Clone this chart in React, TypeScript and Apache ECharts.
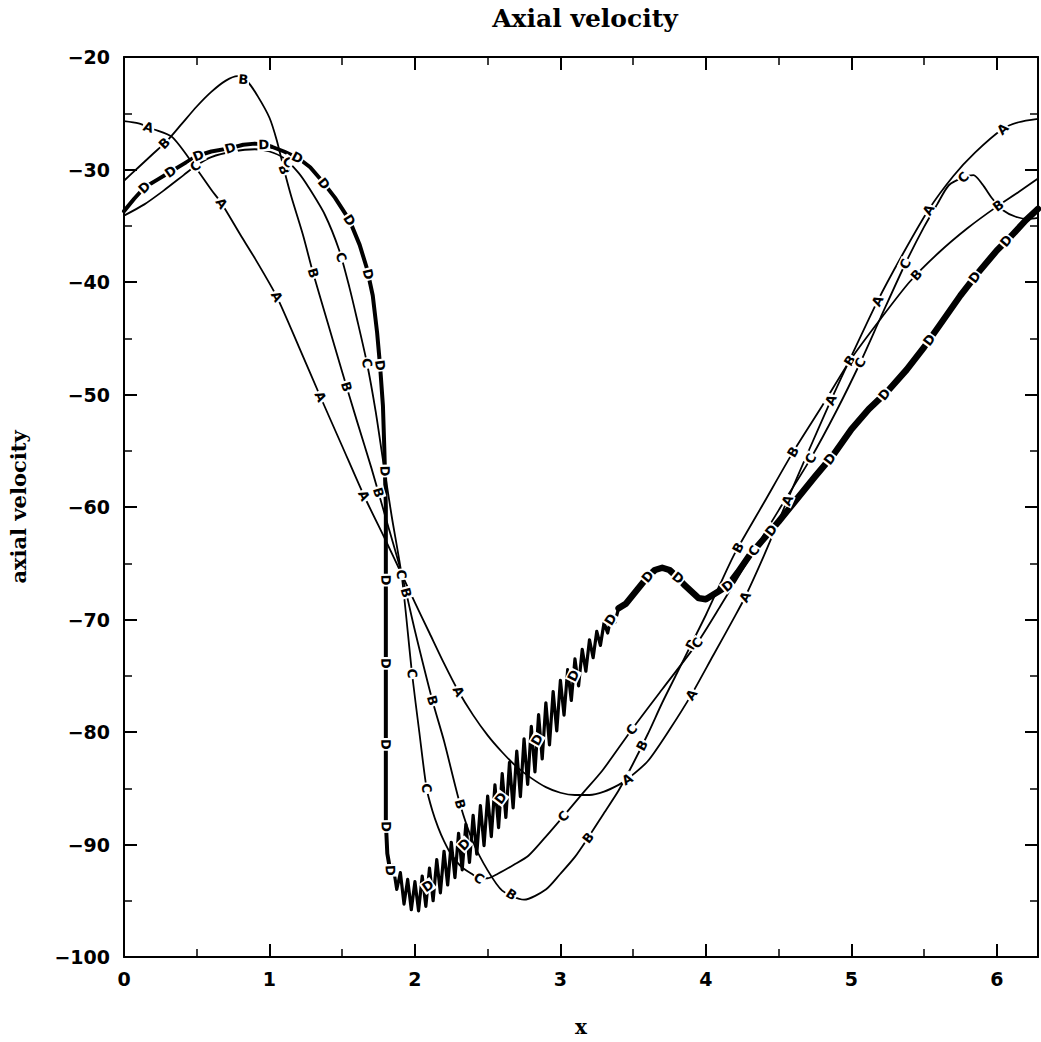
import { useEffect, useRef } from 'react';
import * as echarts from 'echarts';

const TWO_PI = Math.PI * 2;

// Curve A
const aX = [0, 0.1, 0.2, 0.33, 0.48, 0.6, 0.67, 0.8, 0.9, 1.05, 1.2, 1.35, 1.5, 1.65, 1.8, 1.91, 2.0, 2.1, 2.2, 2.3, 2.4, 2.5, 2.6, 2.7, 2.8, 2.9, 3.0, 3.1, 3.2, 3.3, 3.4, 3.46, 3.6, 3.75, 3.9, 4.05, 4.2, 4.27, 4.4, 4.56, 4.7, 4.86, 5.0, 5.18, 5.35, 5.53, 5.7, 5.85, 6.04, 6.15, 6.2832];
const aY = [-25.7, -25.9, -26.4, -27.1, -29.6, -31.8, -33.0, -35.8, -37.9, -41.3, -45.7, -50.2, -54.6, -59.0, -63.0, -66.0, -68.5, -71.2, -73.9, -76.4, -78.5, -80.3, -81.8, -83.1, -84.1, -84.9, -85.4, -85.6, -85.6, -85.3, -84.7, -84.2, -82.6, -79.8, -76.7, -73.2, -69.7, -68.0, -64.3, -59.4, -55.2, -50.5, -46.6, -41.7, -37.6, -33.6, -30.6, -28.5, -26.4, -25.8, -25.5];

// Curve B
const bX = [0, 0.1, 0.2, 0.3, 0.4, 0.5, 0.6, 0.7, 0.78, 0.85, 0.92, 1.0, 1.05, 1.1, 1.15, 1.23, 1.3, 1.4, 1.5, 1.6, 1.7, 1.8, 1.91, 2.0, 2.12, 2.2, 2.31, 2.4, 2.5, 2.6, 2.75, 2.9, 3.0, 3.1, 3.19, 3.3, 3.4, 3.5, 3.6, 3.7, 3.8, 3.9, 4.0, 4.1, 4.2, 4.4, 4.6, 4.8, 5.0, 5.2, 5.4, 5.6, 5.8, 6.0, 6.15, 6.2832];
const bY = [-31.0, -29.8, -28.6, -27.4, -25.9, -24.4, -23.1, -22.1, -21.7, -22.2, -23.5, -25.4, -27.4, -30.0, -32.4, -35.8, -39.2, -43.6, -48.0, -52.3, -56.5, -61.0, -66.0, -71.0, -77.2, -80.8, -86.4, -89.8, -92.3, -94.1, -94.9, -94.0, -92.6, -91.1, -89.4, -87.2, -85.2, -82.8, -80.2, -77.4, -74.8, -72.2, -69.6, -66.8, -64.1, -59.6, -55.1, -51.0, -46.8, -43.3, -40.0, -37.4, -35.2, -33.3, -32.0, -30.8];

// Curve C
const cX = [0, 0.14, 0.27, 0.41, 0.49, 0.6, 0.75, 0.9, 1.0, 1.1, 1.2, 1.27, 1.38, 1.48, 1.55, 1.6, 1.67, 1.73, 1.78, 1.84, 1.91, 1.98, 2.03, 2.08, 2.12, 2.16, 2.2, 2.25, 2.32, 2.39, 2.44, 2.5, 2.57, 2.68, 2.78, 2.9, 3.02, 3.15, 3.29, 3.49, 3.7, 3.94, 4.1, 4.33, 4.5, 4.72, 4.9, 5.06, 5.2, 5.37, 5.5, 5.59, 5.67, 5.77, 5.84, 5.9, 5.97, 6.04, 6.13, 6.22, 6.2832];
const cY = [-34.1, -33.1, -31.9, -30.5, -29.7, -28.9, -28.4, -28.2, -28.4, -29.0, -30.3, -31.6, -34.0, -37.2, -40.5, -43.2, -47.2, -51.5, -55.8, -60.8, -66.2, -74.8, -80.0, -85.0, -87.0, -88.5, -89.7, -90.9, -92.0, -92.6, -93.0, -93.0, -92.6, -91.8, -91.0, -89.3, -87.5, -85.5, -83.4, -79.8, -76.2, -72.1, -68.8, -63.9, -60.3, -55.7, -51.4, -47.2, -43.2, -38.4, -35.1, -33.1, -31.4, -30.7, -30.5, -31.3, -32.6, -33.6, -34.2, -34.4, -34.3];

// Curve D, smooth left part (top arc and the vertical drop)
const dLeftX = [0, 0.07, 0.14, 0.23, 0.32, 0.41, 0.5, 0.6, 0.73, 0.82, 0.9, 0.97, 1.02, 1.1, 1.2, 1.28, 1.36, 1.45, 1.55, 1.62, 1.67, 1.71, 1.74, 1.76, 1.78, 1.79, 1.8, 1.8, 1.8, 1.8, 1.81, 1.83, 1.85];
const dLeftY = [-33.7, -32.6, -31.6, -30.9, -30.2, -29.5, -28.8, -28.4, -28.1, -27.8, -27.7, -27.8, -28.0, -28.4, -29.0, -29.8, -31.0, -32.5, -34.5, -36.7, -38.8, -41.2, -44.5, -47.4, -51.0, -55.0, -60.0, -70.0, -80.0, -88.0, -90.8, -92.3, -91.9];

// Curve D, oscillating band
const dBandX = [1.85, 1.875, 1.9, 1.925, 1.95, 1.975, 2.0, 2.025, 2.05, 2.075, 2.1, 2.125, 2.15, 2.175, 2.2, 2.225, 2.25, 2.275, 2.3, 2.325, 2.35, 2.375, 2.4, 2.425, 2.45, 2.475, 2.5, 2.525, 2.55, 2.575, 2.6, 2.625, 2.65, 2.675, 2.7, 2.725, 2.75, 2.775, 2.8, 2.825, 2.85, 2.875, 2.9, 2.925, 2.95, 2.975, 3.0, 3.025, 3.05, 3.075, 3.1, 3.125, 3.15, 3.175, 3.2, 3.225, 3.25, 3.275, 3.3, 3.325, 3.35, 3.375, 3.4];
const dBandY = [-91.9, -94.0, -92.5, -95.3, -93.1, -95.8, -93.3, -95.9, -92.8, -95.5, -92.1, -95.0, -91.35, -94.3, -90.6, -93.6, -89.8, -92.95, -89.0, -92.25, -88.2, -91.6, -87.4, -90.85, -86.55, -90.1, -85.7, -89.3, -84.7, -88.5, -83.7, -87.6, -82.7, -86.75, -81.7, -85.75, -80.6, -84.65, -79.5, -83.55, -78.45, -82.4, -77.4, -81.15, -76.4, -79.9, -75.4, -78.5, -74.45, -77.2, -73.5, -75.9, -72.65, -74.6, -71.8, -73.4, -71.05, -72.3, -70.3, -71.2, -69.7, -70.25, -69.0];

// Curve D, right part (bump and rise)
const dRightX = [3.4, 3.45, 3.5, 3.55, 3.6, 3.65, 3.7, 3.75, 3.8, 3.85, 3.9, 3.95, 4.0, 4.05, 4.1, 4.15, 4.22, 4.3, 4.4, 4.5, 4.6, 4.75, 4.88, 5.0, 5.12, 5.25, 5.38, 5.5, 5.62, 5.75, 5.87, 6.0, 6.1, 6.2, 6.2832];
const dRightY = [-69.0, -68.6, -67.8, -67.0, -66.2, -65.6, -65.4, -65.6, -66.2, -66.9, -67.5, -68.1, -68.2, -67.8, -67.4, -67.0, -65.8, -64.3, -62.8, -61.3, -59.7, -57.3, -55.3, -53.1, -51.3, -49.7, -47.8, -45.8, -43.6, -41.2, -39.2, -37.2, -35.9, -34.5, -33.5];

// Positions of the curve letters
const aLabels = [[0.17, -26.2], [0.67, -33.0], [1.05, -41.3], [1.35, -50.2], [1.65, -59.0], [2.3, -76.4], [3.46, -84.2], [3.9, -76.7], [4.27, -68.0], [4.56, -59.4], [4.86, -50.5], [5.18, -41.7], [5.53, -33.6], [6.04, -26.4]];
const bLabels = [[0.28, -27.7], [0.82, -22.0], [1.1, -30.0], [1.3, -39.2], [1.53, -49.3], [1.75, -58.7], [1.94, -67.6], [2.12, -77.2], [2.31, -86.4], [2.66, -94.5], [3.19, -89.4], [3.56, -81.2], [3.9, -72.2], [4.22, -63.6], [4.6, -55.1], [4.99, -47.0], [5.45, -39.4], [6.01, -33.2]];
const cLabels = [[0.49, -29.7], [1.13, -29.3], [1.49, -37.8], [1.67, -47.2], [1.9, -66.0], [1.98, -74.8], [2.08, -85.0], [2.44, -93.0], [3.02, -87.5], [3.49, -79.8], [3.94, -72.1], [4.33, -63.9], [4.72, -55.7], [5.06, -47.2], [5.37, -38.4], [5.77, -30.7]];
const dLabels = [[0.14, -31.6], [0.32, -30.2], [0.51, -28.7], [0.73, -28.1], [0.96, -27.8], [1.19, -29.0], [1.38, -31.2], [1.55, -34.5], [1.68, -39.3], [1.76, -47.4], [1.8, -56.8], [1.8, -66.5], [1.8, -73.9], [1.8, -81.1], [1.8, -88.4], [1.83, -92.3], [2.1, -93.7], [2.35, -90.0], [2.6, -85.9], [2.85, -80.7], [3.1, -75.0], [3.34, -70.0], [3.6, -66.2], [3.8, -66.4], [4.15, -67.0], [4.45, -62.1], [4.84, -55.6], [5.22, -49.9], [5.54, -45.2], [5.85, -39.6], [6.06, -36.3]];

const xTicksMajor = 1;
const xTicksMinor = 0.5;
const yTickInterval = 10;

function zip(xs: number[], ys: number[]) {
  return xs.map((x, i) => [x, ys[i]]);
}

const BLACK = '#000';

function placeLabels(toPx: (p: number[]) => number[], pts: number[][], specs: number[][], letter: string) {
  const px = pts.map((p) => toPx(p));
  const out: any[] = [];
  for (let k = 0; k < specs.length; k++) {
    const q = toPx(specs[k]);
    let best = Infinity;
    let bx = q[0];
    let by = q[1];
    let bi = 0;
    for (let i = 0; i < px.length - 1; i++) {
      const x1 = px[i][0];
      const y1 = px[i][1];
      const dx = px[i + 1][0] - x1;
      const dy = px[i + 1][1] - y1;
      const L = dx * dx + dy * dy;
      let t = L > 0 ? ((q[0] - x1) * dx + (q[1] - y1) * dy) / L : 0;
      t = Math.max(0, Math.min(1, t));
      const cx = x1 + t * dx;
      const cy = y1 + t * dy;
      const d = (cx - q[0]) * (cx - q[0]) + (cy - q[1]) * (cy - q[1]);
      if (d < best) {
        best = d;
        bx = cx;
        by = cy;
        bi = i;
      }
    }
    const i0 = Math.max(0, bi - 2);
    const i1 = Math.min(px.length - 1, bi + 2);
    let ang = Math.atan2(px[i0][1] - px[i1][1], px[i1][0] - px[i0][0]);
    if (ang > Math.PI / 2) ang -= Math.PI;
    if (ang < -Math.PI / 2) ang += Math.PI;
    if (!isFinite(ang)) ang = 0;
    out.push({
      type: 'text',
      x: bx,
      y: by,
      rotation: ang,
      z: 100,
      silent: true,
      style: {
        text: letter,
        fill: BLACK,
        fontFamily: 'DejaVu Sans',
        fontWeight: 'bold',
        fontSize: 13,
        backgroundColor: '#fff',
        padding: [0, 1, 0, 1],
        align: 'center',
        verticalAlign: 'middle',
      },
    });
  }
  return out;
}

export default function App() {
  const ref = useRef<HTMLDivElement>(null);

  useEffect(() => {
    const chart = echarts.init(ref.current as HTMLDivElement, null, { renderer: 'svg' });

    const tickFont = { fontFamily: 'DejaVu Sans', fontWeight: 'bold', fontSize: 19, color: BLACK };
    const axisLine = { show: true, onZero: false, lineStyle: { color: BLACK, width: 2 } };
    const majorTick = { show: true, inside: true, length: 13, lineStyle: { color: BLACK, width: 2 } };
    const minorTickX = { show: true, inside: true, length: 8, lineStyle: { color: BLACK, width: 1.5 } };

    const xBase = { type: 'value', min: 0, max: TWO_PI, splitLine: { show: false }, minorSplitLine: { show: false } };

    const lineSeries: any[] = [
      { name: 'A', data: zip(aX, aY), width: 1.8, smooth: 0.25 },
      { name: 'B', data: zip(bX, bY), width: 1.8, smooth: 0.25 },
      { name: 'C', data: zip(cX, cY), width: 1.8, smooth: 0.25 },
      { name: 'D', data: zip(dLeftX, dLeftY), width: 4, smooth: false },
      { name: 'D', data: zip(dBandX, dBandY), width: 3.2, smooth: false },
      { name: 'D', data: zip(dRightX, dRightY), width: 6.5, smooth: false },
    ].map((s) => ({
      type: 'line',
      name: s.name,
      data: s.data,
      xAxisIndex: 0,
      yAxisIndex: 0,
      showSymbol: false,
      symbol: 'none',
      smooth: s.smooth,
      lineStyle: { color: BLACK, width: s.width, cap: 'round', join: 'round' },
      silent: true,
      z: 2,
    }));

    const option: any = {
      animation: false,
      backgroundColor: '#fff',
      title: {
        text: 'Axial velocity',
        left: 580,
        top: 1,
        textAlign: 'center',
        textStyle: { fontFamily: 'DejaVu Serif', fontWeight: 'bold', fontSize: 25, color: BLACK },
      },
      grid: { left: 120, right: 1, top: 57, bottom: 72, containLabel: false },
      xAxis: [
        {
          ...xBase,
          position: 'bottom',
          interval: xTicksMajor,
          axisLine,
          axisTick: majorTick,
          axisLabel: {
            ...tickFont,
            margin: 12,
            formatter: (v: number) => (Math.abs(v - Math.round(v)) < 1e-9 ? String(Math.round(v)) : ''),
          },
          name: 'x',
          nameLocation: 'middle',
          nameGap: 60,
          nameTextStyle: { fontFamily: 'DejaVu Serif', fontWeight: 'bold', fontSize: 20, color: BLACK },
        },
        { ...xBase, position: 'bottom', interval: xTicksMinor, axisLine: { show: false }, axisTick: minorTickX, axisLabel: { show: false } },
        { ...xBase, position: 'top', interval: xTicksMajor, axisLine, axisTick: majorTick, axisLabel: { show: false } },
        { ...xBase, position: 'top', interval: xTicksMinor, axisLine: { show: false }, axisTick: minorTickX, axisLabel: { show: false } },
      ],
      yAxis: [
        {
          type: 'value',
          min: -100,
          max: -20,
          interval: yTickInterval,
          position: 'left',
          axisLine,
          axisTick: majorTick,
          minorTick: { show: true, splitNumber: 2, length: 8, lineStyle: { color: BLACK, width: 1.5 } },
          splitLine: { show: false },
          minorSplitLine: { show: false },
          axisLabel: {
            ...tickFont,
            margin: 14,
            formatter: (v: number) => (v < 0 ? '\u2212' + Math.abs(v) : String(v)),
          },
          name: 'axial velocity',
          nameLocation: 'middle',
          nameRotate: 90,
          nameGap: 95,
          nameTextStyle: { fontFamily: 'DejaVu Serif', fontWeight: 'bold', fontSize: 21, color: BLACK },
        },
        {
          type: 'value',
          min: -100,
          max: -20,
          interval: yTickInterval,
          position: 'right',
          axisLine,
          axisTick: majorTick,
          minorTick: { show: true, splitNumber: 2, length: 8, lineStyle: { color: BLACK, width: 1.5 } },
          splitLine: { show: false },
          minorSplitLine: { show: false },
          axisLabel: { show: false },
        },
      ],
      series: lineSeries,
    };

    chart.setOption(option);

    // Pixel mapping taken from the chart's own axes
    const p00 = chart.convertToPixel({ xAxisIndex: 0, yAxisIndex: 0 }, [0, -100]) as number[];
    const p11 = chart.convertToPixel({ xAxisIndex: 0, yAxisIndex: 0 }, [1, -90]) as number[];
    const sx = p11[0] - p00[0];
    const sy = p11[1] - p00[1];
    const toPx = (p: number[]) => [p00[0] + p[0] * sx, p00[1] + ((p[1] + 100) / 10) * sy];

    const dAll = [...zip(dLeftX, dLeftY), ...zip(dBandX, dBandY), ...zip(dRightX, dRightY)];
    const sets = [
      { letter: 'A', pts: zip(aX, aY), labels: aLabels },
      { letter: 'B', pts: zip(bX, bY), labels: bLabels },
      { letter: 'C', pts: zip(cX, cY), labels: cLabels },
      { letter: 'D', pts: dAll, labels: dLabels },
    ];
    let graphics: any[] = [];
    for (const s of sets) {
      graphics = graphics.concat(placeLabels(toPx, s.pts, s.labels, s.letter));
    }

    chart.setOption({ graphic: { elements: graphics } });

    return () => {
      chart.dispose();
    };
  }, []);

  return (
    <div
      ref={ref}
      style={{ position: 'fixed', left: 0, top: 0, width: 1041, height: 1042, background: '#fff' }}
    />
  );
}
